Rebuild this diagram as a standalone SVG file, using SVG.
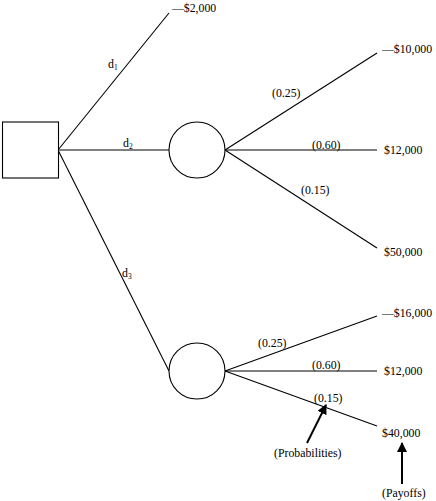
<svg xmlns="http://www.w3.org/2000/svg" width="436" height="501" viewBox="0 0 436 501">
<defs>
<style>
.ln{stroke:#000;stroke-width:1.1;fill:none}
.nd{stroke:#000;stroke-width:1.1;fill:#fff}
.ar{stroke:#000;stroke-width:2;fill:none}
text{font-family:"Liberation Serif","Times New Roman",serif;font-size:11.8px;fill:#000}
.sub{font-size:7.5px}
</style>
<marker id="ah" viewBox="0 0 10 10" refX="9" refY="5" markerWidth="5" markerHeight="5" orient="auto" markerUnits="strokeWidth">
<path d="M0,0 L10,5 L0,10 Z" fill="#000"/>
</marker>
</defs>
<rect width="436" height="501" fill="#fff"/>
<g id="connectors">
<line class="ln" x1="58" y1="150" x2="169" y2="13"/>
<line class="ln" x1="58" y1="150" x2="169" y2="150"/>
<line class="ln" x1="58" y1="150" x2="169" y2="371"/>
<line class="ln" x1="225" y1="150" x2="377" y2="53"/>
<line class="ln" x1="225" y1="150" x2="377" y2="150"/>
<line class="ln" x1="225" y1="150" x2="377" y2="248"/>
<line class="ln" x1="225" y1="371" x2="377" y2="316"/>
<line class="ln" x1="225" y1="371" x2="377" y2="371"/>
<line class="ln" x1="225" y1="371" x2="377" y2="426"/>
<text x="108" y="68">d<tspan class="sub" dy="2">1</tspan></text>
<text x="123" y="147">d<tspan class="sub" dy="2">2</tspan></text>
<text x="122" y="277">d<tspan class="sub" dy="2">3</tspan></text>
<text x="272" y="97">(0.25)</text>
<text x="312" y="149">(0.60)</text>
<text x="301" y="194">(0.15)</text>
<text x="258" y="347">(0.25)</text>
<text x="312" y="369">(0.60)</text>
<text x="314" y="402">(0.15)</text>
</g>
<g id="decision">
<rect class="nd" x="2.5" y="122" width="56" height="56"/>
</g>
<g id="chance1">
<circle class="nd" cx="197" cy="150" r="28"/>
</g>
<g id="chance2">
<circle class="nd" cx="197" cy="371" r="28"/>
</g>
<g id="payoffs">
<text x="172" y="12">—$2,000</text>
<text x="382" y="53">—$10,000</text>
<text x="384" y="154">$12,000</text>
<text x="384" y="256">$50,000</text>
<text x="382" y="317">—$16,000</text>
<text x="384" y="375">$12,000</text>
<text x="382" y="437">$40,000</text>
</g>
<g id="annotations">
<line class="ar" x1="307" y1="443" x2="326" y2="405" marker-end="url(#ah)"/>
<text x="274" y="457">(Probabilities)</text>
<line class="ar" x1="402" y1="484" x2="402" y2="443" marker-end="url(#ah)"/>
<text x="382" y="497">(Payoffs)</text>
</g>
</svg>
